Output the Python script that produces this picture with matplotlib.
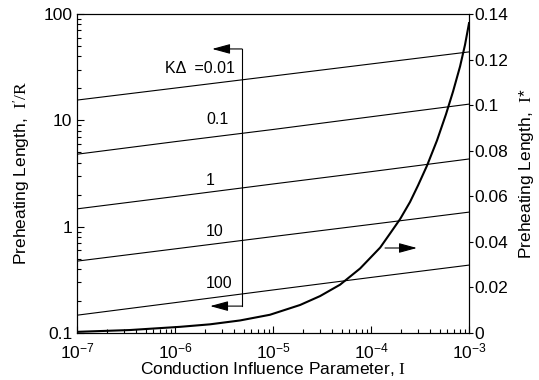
import numpy as np
import matplotlib
matplotlib.use("Agg")
import matplotlib.pyplot as plt

plt.rcParams['font.family'] = ['Liberation Sans', 'DejaVu Sans']
plt.rcParams['mathtext.fontset'] = 'custom'
plt.rcParams['mathtext.rm'] = 'Liberation Serif'
plt.rcParams['mathtext.default'] = 'regular'

# ---------------- data ----------------
I_dec = [1e-7, 1e-6, 1e-5, 1e-4, 1e-3]
k_delta_labels = ['0.1', '1', '10', '100']
len_001 = [15.5, 20.1, 26.1, 33.9, 44.0]
len_01 = [4.8, 6.3, 8.2, 10.8, 14.2]
len_1 = [1.47, 1.92, 2.52, 3.29, 4.33]
len_10 = [0.474, 0.618, 0.807, 1.05, 1.37]
len_100 = [0.147, 0.193, 0.254, 0.333, 0.435]

I_curve = [1e-7, 3.47e-7, 1.12e-6, 2.27e-6, 4.6e-6, 9.3e-6, 1.89e-5, 3.02e-5,
           4.83e-5, 7.73e-5, 1.24e-4, 1.56e-4, 1.98e-4, 2.5e-4, 3.02e-4,
           3.73e-4, 4.71e-4, 5.82e-4, 6.87e-4, 8.1e-4, 9.1e-4, 1e-3]
len_star = [0.0005, 0.0013, 0.0027, 0.0038, 0.0055, 0.0080, 0.0123, 0.0162,
            0.0212, 0.0283, 0.0375, 0.0436, 0.0500, 0.0575, 0.0648,
            0.0735, 0.0845, 0.0960, 0.1060, 0.1170, 0.1265, 0.136]

# ---------------- figure ----------------
fig = plt.figure(figsize=(5.39, 3.8), dpi=100)
ax = fig.add_axes([0.1429, 0.1237, 0.7273, 0.8395])

for vals in [len_001, len_01, len_1, len_10, len_100]:
    ax.plot(I_dec, vals, color='black', lw=0.8)

ax.set_xscale('log')
ax.set_yscale('log')
ax.set_xlim(1e-7, 1e-3)
ax.set_ylim(0.1, 100)
ax.set_xticks(I_dec)
ax.set_xticklabels(['$10^{-7}$', '$10^{-6}$', '$10^{-5}$', '$10^{-4}$', '$10^{-3}$'])
ax.set_yticks([0.1, 1, 10, 100])
ax.set_yticklabels(['0.1', '1', '10', '100'])
ax.tick_params(axis='both', which='both', direction='in', labelsize=12.5,
               top=False, right=False, width=0.8)
ax.tick_params(axis='both', which='major', length=5)
ax.tick_params(axis='both', which='minor', length=3)
ax.tick_params(axis='x', pad=6)
ax.set_xlabel('Conduction Influence Parameter, $\\mathrm{I}$', fontsize=12.5, labelpad=-1)
ax.set_ylabel("Preheating Length,  $\\mathrm{I'/R}$", fontsize=12.5, labelpad=8)

# curve labels
ax.text(7.9e-7, 30.4, 'K\u0394  =0.01', fontsize=11.5, va='center', ha='left')
for lab, yv in zip(k_delta_labels, [10.1, 2.74, 0.91, 0.294]):
    ax.text(2.07e-6, yv, lab, fontsize=11.5, va='center', ha='left')

# bracket with arrows pointing to left axis
xb = 4.83e-6
ax.plot([xb, xb], [0.179, 46.9], color='black', lw=0.8)
ax.annotate('', xy=(2.39e-6, 46.9), xytext=(xb, 46.9),
            arrowprops=dict(arrowstyle='-|>,head_length=1.1,head_width=0.3',
                            color='black', lw=0.8, shrinkA=0, shrinkB=0))
ax.annotate('', xy=(2.28e-6, 0.179), xytext=(xb, 0.179),
            arrowprops=dict(arrowstyle='-|>,head_length=1.1,head_width=0.3',
                            color='black', lw=0.8, shrinkA=0, shrinkB=0))

# right axis
ax2 = ax.twinx()
ax2.plot(I_curve, len_star, color='black', lw=1.5)
ax2.set_ylim(0, 0.14)
ax2.set_yticks([0, 0.02, 0.04, 0.06, 0.08, 0.1, 0.12, 0.14])
ax2.set_yticklabels(['0', '0.02', '0.04', '0.06', '0.08', '0.1', '0.12', '0.14'])
ax2.tick_params(axis='y', direction='out', length=3, width=0.8, labelsize=12.5, pad=1)
ax2.set_ylabel('Preheating Length,  $\\mathrm{I}$*', fontsize=12.5, labelpad=6)

ax2.annotate('', xy=(2.94e-4, 0.0373), xytext=(1.39e-4, 0.0373),
             arrowprops=dict(arrowstyle='-|>,head_length=1.1,head_width=0.3',
                             color='black', lw=0.8, shrinkA=0, shrinkB=0))

for a in (ax, ax2):
    for s in a.spines.values():
        s.set_linewidth(0.8)

fig.savefig('out.png', dpi=100)
